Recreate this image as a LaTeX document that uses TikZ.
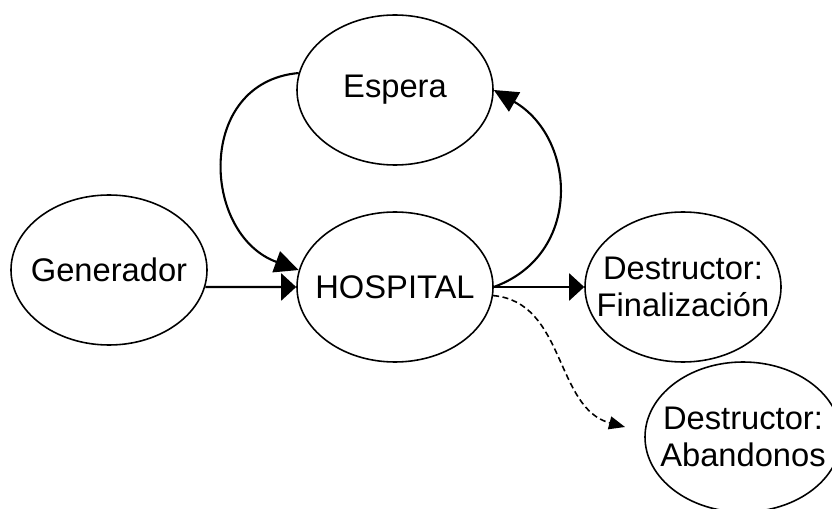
\documentclass[tikz,border=0pt]{standalone}
\usepackage{fontspec}
\setmainfont{Liberation Sans}
\usetikzlibrary{arrows.meta,shapes,positioning}

\tikzset{
	estado/.style={draw, ellipse, minimum width=1.96cm, minimum height=1.5cm, inner sep=0pt, line width=0.45pt,
		label={[align=center, font=\fontsize{9.3}{10.6}\selectfont]center:#1}},
	flecha/.style={line width=0.6pt, -{Triangle[length=0.15cm, width=0.27cm]}},
	curva/.style={line width=0.6pt, -{Triangle[length=0.24cm, width=0.22cm]}},
	punteada/.style={line width=0.45pt, dash pattern=on 1.7pt off 1pt, -{Triangle[length=0.16cm, width=0.13cm]}}
}

\begin{document}
\begin{tikzpicture}
				\useasboundingbox (0,0) rectangle (8.32,5.08);
				
				\node [estado=Generador] (gen) at (1.09,2.38) {};
				\node [estado=Espera] (esp) at (3.95,4.18) {};
				\node [estado=HOSPITAL] (hosp) at (3.95,2.21) {};
				\node [estado={Destructor:\\Finalización}] (fin) at (6.83,2.21) {};
				\node [estado={Destructor:\\Abandonos}] (aban) at (7.43,0.71) {};
				
				% % % % % % % % % % % % % % % % % % % % % % % % % %
				
				\draw [flecha] (gen.-10) -- (hosp.west);
				\draw [flecha] (hosp.east) -- (fin.west);
				
				\draw [curva] (esp.170) to [out=185,in=160,looseness=1.35] (hosp.170);
				\draw [curva] (hosp.east) to [out=20,in=-30,looseness=1.24] (esp.east);
				
				% no llega a tocar la elipse
				\coordinate (finaban) at (6.25,0.81);
				\draw [punteada, shorten >=0pt] (hosp.-5) to [out=-5,in=165] (finaban);
\end{tikzpicture}
\end{document}
